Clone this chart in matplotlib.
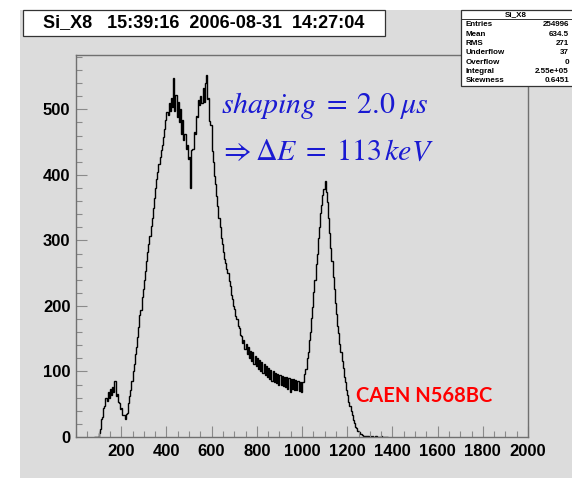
import numpy as np
import matplotlib
matplotlib.use("Agg")
import matplotlib.pyplot as plt
from matplotlib.patches import Rectangle
from matplotlib.ticker import MultipleLocator

# Histogram of pulse heights: 5-channel bins starting at channel 80
bin_start = 80
bin_width = 5
counts = [
    0, 0, 0, 0, 6, 12, 27, 30, 45, 47, 60, 55, 68, 60, 74, 64, 76, 68, 86, 63,
    66, 53, 52, 42, 44, 33, 34, 28, 35, 36, 52, 62, 72, 86, 100, 112, 126, 138, 152, 168,
    186, 194, 214, 226, 240, 254, 268, 282, 294, 306, 322, 334, 350, 364, 380, 394, 404, 416, 428, 438,
    446, 458, 470, 484, 496, 492, 510, 498, 518, 504, 548, 498, 522, 488, 512, 480, 500, 462, 484, 454,
    462, 440, 446, 424, 428, 380, 438, 440, 466, 462, 490, 488, 514, 506, 520, 510, 532, 512, 540, 552,
    516, 518, 482, 476, 436, 420, 398, 386, 368, 352, 334, 320, 304, 294, 282, 272, 266, 256, 250, 238,
    230, 216, 210, 200, 196, 184, 180, 170, 166, 156, 154, 144, 148, 134, 142, 126, 138, 120, 132, 116,
    130, 112, 124, 108, 120, 104, 117, 100, 115, 98, 112, 94, 108, 91, 106, 89, 103, 86, 101, 84,
    98, 82, 96, 80, 95, 79, 93, 78, 92, 76, 91, 74, 90, 68, 88, 74, 89, 72, 87, 71,
    85, 70, 84, 69, 84, 84, 96, 104, 120, 130, 148, 160, 182, 198, 222, 240, 264, 280, 304, 320,
    342, 354, 370, 378, 390, 374, 358, 334, 312, 288, 268, 244, 226, 204, 188, 170, 158, 142, 130, 116,
    106, 92, 84, 72, 64, 54, 48, 39, 34, 26, 22, 16, 13, 9, 7, 5, 4, 3, 2, 2,
    2, 1, 1, 0, 1, 0, 1, 0, 0, 1, 0, 0, 0, 0, 1, 0, 0, 0, 0, 0,
]
edges = bin_start + bin_width * np.arange(len(counts) + 1)

title_text = "Si_X8   15:39:16  2006-08-31  14:27:04"
stats_name = "Si_X8"
stats_labels = ["Entries", "Mean", "RMS", "Underflow", "Overflow", "Integral", "Skewness"]
stats_values = ["254996", "634.5", "271", "37", "0", "2.55e+05", "0.6451"]
x_ticks = [200, 400, 600, 800, 1000, 1200, 1400, 1600, 1800, 2000]
y_ticks = [0, 100, 200, 300, 400, 500]

W, H = 572, 478
fig = plt.figure(figsize=(W / 100, H / 100), dpi=100)
fig.patch.set_facecolor("white")

def fx(px):
    return px / W

def fy(py):
    return 1 - py / H

canvas_gray = "#dcdcdc"
fig.patches.append(Rectangle((fx(20), 0), fx(W - 20) + 0.01, fy(10), transform=fig.transFigure,
                             facecolor=canvas_gray, edgecolor="none", zorder=-5))

ax = fig.add_axes([fx(76), fy(437), fx(528 - 76), fy(55) - fy(437)])
ax.set_zorder(1)
ax.set_facecolor(canvas_gray)
ax.stairs(counts, edges, color="black", linewidth=1.0)

ax.set_xlim(0, 2000)
ax.set_ylim(0, 583)
ax.set_xticks(x_ticks)
ax.set_yticks(y_ticks)
ax.xaxis.set_minor_locator(MultipleLocator(50))
ax.yaxis.set_minor_locator(MultipleLocator(20))
ax.tick_params(which="both", direction="in", color="#8a8a8a", width=0.8,
               top=False, right=False)
ax.tick_params(which="major", length=8)
ax.tick_params(which="minor", length=4)
ax.tick_params(axis="x", pad=5)
ax.tick_params(axis="y", pad=4)
for lab in ax.get_xticklabels() + ax.get_yticklabels():
    lab.set_fontfamily("Liberation Sans")
    lab.set_fontweight("bold")
    lab.set_fontsize(12)
for sp in ax.spines.values():
    sp.set_color("#707070")
    sp.set_linewidth(1.0)

# Title box
fig.patches.append(Rectangle((fx(23), fy(36)), fx(385 - 23), fy(10) - fy(36), transform=fig.transFigure,
                             facecolor="white", edgecolor="#333333", linewidth=0.9, zorder=2))
fig.text(fx(204), fy(23), title_text, ha="center", va="center", fontsize=13,
         fontfamily="Liberation Sans", fontweight="bold", zorder=3)

# Statistics box
fig.patches.append(Rectangle((fx(461), fy(86)), fx(120), fy(10) - fy(86), transform=fig.transFigure,
                             facecolor="white", edgecolor="#333333", linewidth=0.9, zorder=2))
fig.lines.append(plt.Line2D([fx(461), 1.0], [fy(19), fy(19)], transform=fig.transFigure,
                            color="#333333", linewidth=0.7, zorder=3))
fig.text(fx(516), fy(14.5), stats_name, ha="center", va="center", fontsize=5.8,
         fontfamily="Liberation Sans", fontweight="bold", zorder=3)
for i, (lab, val) in enumerate(zip(stats_labels, stats_values)):
    yy = 25 + i * 9.3
    fig.text(fx(466), fy(yy), lab, ha="left", va="center", fontsize=5.8,
             fontfamily="Liberation Sans", fontweight="bold", zorder=3)
    fig.text(fx(569), fy(yy), val, ha="right", va="center", fontsize=5.8,
             fontfamily="Liberation Sans", fontweight="bold", zorder=3)

# Annotations
plt.rcParams["mathtext.fontset"] = "stix"
blue = "#1a1ad2"
fig.text(fx(221), fy(113), r"$shaping\;=\;2.0\;\mu s$", ha="left", va="baseline",
         fontsize=21.5, color=blue, zorder=4)
fig.text(fx(219), fy(160), r"$\Rightarrow\Delta E\;=\;113\,keV$", ha="left", va="baseline",
         fontsize=21.5, color=blue, zorder=4)
fig.text(fx(356), fy(396), "CAEN N568BC", ha="left", va="center", fontsize=14.5,
         fontfamily="Lato", fontweight="bold", color="#ff0000", zorder=4)

fig.savefig("out.png", dpi=100)
